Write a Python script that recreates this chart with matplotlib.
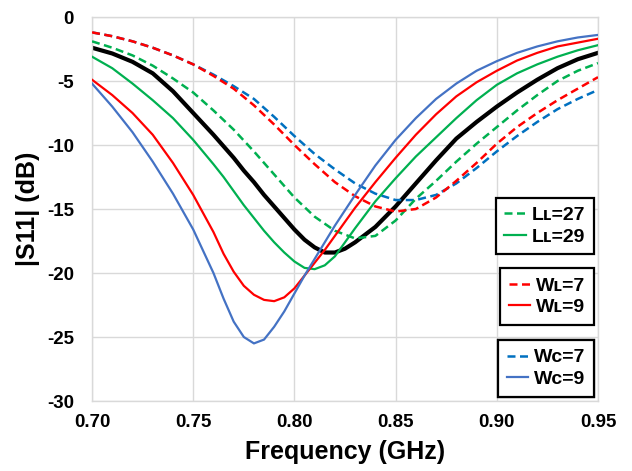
import matplotlib
import matplotlib.pyplot as plt

matplotlib.use("Agg")

plt.rcParams["font.family"] = ["Liberation Sans", "DejaVu Sans"]
plt.rcParams["font.weight"] = "bold"

# frequency axis (GHz): solid curves are read more densely around their dips
freq_solid = [0.70, 0.71, 0.72, 0.73, 0.74, 0.75, 0.76,
              0.765, 0.77, 0.775, 0.78, 0.785, 0.79, 0.795, 0.80, 0.805,
              0.81, 0.815, 0.82, 0.825,
              0.83, 0.84, 0.85, 0.86, 0.87, 0.88, 0.89, 0.90, 0.91, 0.92,
              0.93, 0.94, 0.95]
freq_dashed = [0.70, 0.71, 0.72, 0.73, 0.74, 0.75, 0.76, 0.77, 0.78, 0.79,
               0.80, 0.81, 0.82, 0.83, 0.84, 0.85, 0.86, 0.87, 0.88, 0.89,
               0.90, 0.91, 0.92, 0.93, 0.94, 0.95]

# |S11| in dB
s11_ref = [-2.4, -2.85, -3.5, -4.4, -5.8, -7.5, -9.2,
           -10.1, -11.0, -12.0, -12.9, -13.9, -14.8, -15.7, -16.6, -17.4,
           -18.0, -18.4, -18.4, -18.1,
           -17.6, -16.4, -14.8, -13.0, -11.2, -9.5, -8.2, -7.0, -5.9, -4.9,
           -4.0, -3.3, -2.8]
s11_ll29 = [-3.1, -4.0, -5.2, -6.5, -7.9, -9.6, -11.5,
            -12.5, -13.6, -14.7, -15.7, -16.7, -17.6, -18.4, -19.1, -19.6,
            -19.7, -19.4, -18.7, -17.6,
            -16.5, -14.4, -12.6, -10.9, -9.4, -7.9, -6.5, -5.3, -4.4, -3.7,
            -3.1, -2.6, -2.2]
s11_wl9 = [-4.9, -6.1, -7.5, -9.2, -11.4, -13.9, -16.8,
           -18.5, -19.9, -21.0, -21.7, -22.1, -22.2, -21.9, -21.2, -20.2,
           -19.2, -18.2, -17.1, -16.0,
           -14.9, -12.9, -11.0, -9.2, -7.6, -6.2, -5.1, -4.2, -3.4, -2.8,
           -2.3, -2.0, -1.7]
s11_wc9 = [-5.2, -7.0, -9.0, -11.3, -13.8, -16.6, -20.0,
           -22.0, -23.8, -25.0, -25.5, -25.2, -24.2, -23.0, -21.6, -20.2,
           -18.9, -17.6, -16.3, -15.1,
           -13.9, -11.6, -9.6, -7.9, -6.4, -5.2, -4.2, -3.45, -2.8, -2.3,
           -1.9, -1.6, -1.4]
s11_ll27 = [-1.9, -2.4, -3.0, -3.8, -4.8, -5.9, -7.3, -8.8, -10.5, -12.3,
            -14.1, -15.6, -16.7, -17.3, -17.1, -15.9, -14.2, -12.8, -11.3,
            -9.9, -8.6, -7.3, -6.1, -5.0, -4.2, -3.6]
s11_wl7 = [-1.2, -1.5, -1.9, -2.4, -3.0, -3.7, -4.6, -5.6, -6.9, -8.4,
           -10.0, -11.5, -12.9, -14.0, -14.8, -15.2, -15.0, -14.1, -12.8,
           -11.4, -9.9, -8.6, -7.5, -6.5, -5.6, -4.7]
s11_wc7 = [-1.2, -1.5, -1.9, -2.4, -3.0, -3.7, -4.5, -5.4, -6.4, -7.8,
           -9.3, -10.7, -11.9, -13.0, -13.8, -14.3, -14.3, -13.9, -13.0,
           -11.8, -10.5, -9.3, -8.2, -7.2, -6.4, -5.7]

x_ticks = [0.70, 0.75, 0.80, 0.85, 0.90, 0.95]
y_ticks = [0, -5, -10, -15, -20, -25, -30]

GREEN = "#00B050"
RED = "#FF0000"
BLUE_SOLID = "#4472C4"
BLUE_DASH = "#0070C0"
DASH = (3.2, 1.8)

fig = plt.figure(figsize=(6.32, 4.71), dpi=100)
ax = fig.add_axes([0.1456, 0.1486, 0.8006, 0.8153])

ax.plot(freq_solid, s11_ref, color="black", lw=3.0, zorder=2)

c7, = ax.plot(freq_dashed, s11_wc7, color=BLUE_DASH, lw=1.8, dashes=DASH, zorder=2.5)
l27, = ax.plot(freq_dashed, s11_ll27, color=GREEN, lw=1.8, dashes=DASH, zorder=3)
l29, = ax.plot(freq_solid, s11_ll29, color=GREEN, lw=1.6, zorder=3)
w7, = ax.plot(freq_dashed, s11_wl7, color=RED, lw=1.8, dashes=DASH, zorder=3)
w9, = ax.plot(freq_solid, s11_wl9, color=RED, lw=1.6, zorder=3)
c9, = ax.plot(freq_solid, s11_wc9, color=BLUE_SOLID, lw=1.6, zorder=3)

ax.set_xlim(0.70, 0.95)
ax.set_ylim(-30, 0)
ax.set_xticks(x_ticks)
ax.set_xticklabels([f"{t:.2f}" for t in x_ticks])
ax.set_yticks(y_ticks)
ax.set_yticklabels([str(t) for t in y_ticks])
ax.tick_params(axis="both", length=0, labelsize=13.5)
ax.tick_params(axis="x", pad=9)
ax.tick_params(axis="y", pad=13)
ax.grid(True, color="#D9D9D9", lw=1.0)
ax.set_axisbelow(True)
for sp in ax.spines.values():
    sp.set_color("#D9D9D9")
    sp.set_linewidth(1.0)

ax.set_xlabel("Frequency (GHz)", fontsize=18, fontweight="bold", labelpad=7)
ax.set_ylabel("|S11| (dB)", fontsize=18, fontweight="bold", labelpad=5)

# three framed legends stacked at lower right
groups = [
    ([l27, l29], ["L\u029f=27", "L\u029f=29"], 0.529),
    ([w7, w9], ["W\u029f=7", "W\u029f=9"], 0.346),
    ([c7, c9], ["W\u1d04=7", "W\u1d04=9"], 0.159),
]
for handles, labels, top in groups:
    leg = ax.legend(handles, labels, loc="upper right", bbox_to_anchor=(0.992, top),
                    borderaxespad=0, frameon=True, fancybox=False, framealpha=1,
                    edgecolor="black", handlelength=1.1,
                    handletextpad=0.3, labelspacing=0.2, borderpad=0.45,
                    prop={"weight": "bold", "size": 14})
    leg.get_frame().set_linewidth(1.6)
    leg.set_zorder(5)
    ax.add_artist(leg)

fig.savefig("out.png", dpi=100)
